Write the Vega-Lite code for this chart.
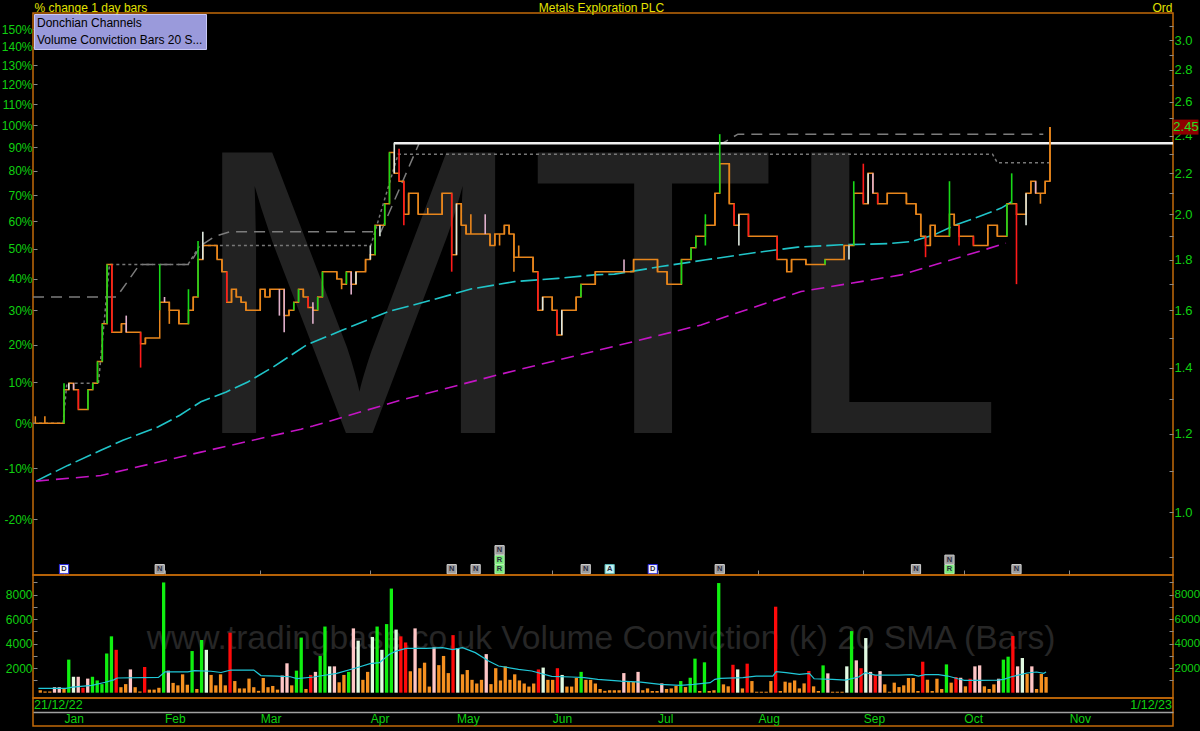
{
"$schema": "https://vega.github.io/schema/vega-lite/v6.json",
"background": "#000000",
"padding": {"left": 0, "top": 0, "right": 0, "bottom": 6},
"bounds": "flush",
"spacing": 0,
"config": {
  "view": {"stroke": "#c26a08", "strokeWidth": 1.5},
  "font": "Liberation Sans",
  "axis": {"grid": false, "labelFont": "Liberation Sans", "titleFont": "Liberation Sans", "labelOverlap": false}
},
"resolve": {"scale": {"color": "independent"}},
"datasets": {
  "wm": [{"t": "MTL"}],
  "wm2": [{"t": "www.tradingbase.co.uk Volume Conviction (k) 20 SMA (Bars)"}],
  "leg": [{"name": "Donchian Channels"}, {"name": "Volume Conviction Bars 20 S..."}],
  "dates": [{"i": -0.48, "t": "21/12/22"}, {"i": 237.7, "t": "1/12/23"}],
  "hi": [{"i": 74.9, "i2": 237.7, "p": 2.36}],
  "events": [
    {"i": 6, "t": "D", "r": 0}, {"i": 26, "t": "N", "r": 0}, {"i": 87, "t": "N", "r": 0}, {"i": 92, "t": "N", "r": 0},
    {"i": 97, "t": "R", "r": 0}, {"i": 97, "t": "R", "r": 1}, {"i": 97, "t": "N", "r": 2}, {"i": 115, "t": "N", "r": 0},
    {"i": 120, "t": "A", "r": 0}, {"i": 129, "t": "D", "r": 0}, {"i": 143, "t": "N", "r": 0}, {"i": 184, "t": "N", "r": 0},
    {"i": 191, "t": "R", "r": 0}, {"i": 191, "t": "N", "r": 1}, {"i": 205, "t": "N", "r": 0}
  ],
  "donA": [{"i":-0.48,"p":1.65},{"i":17,"p":1.65},{"i":21.8,"p":1.78},{"i":32.2,"p":1.78},{"i":34.6,"p":1.86},{"i":37.5,"p":1.9},{"i":40.6,"p":1.92},{"i":72.2,"p":1.92},{"i":80.2,"p":2.36},{"i":143.6,"p":2.36},{"i":146.8,"p":2.41},{"i":210.6,"p":2.41}],
  "donB": [{"i":-0.48,"p":1.23},{"i":5.8,"p":1.23},{"i":6.6,"p":1.35},{"i":13.2,"p":1.35},{"i":15.5,"p":1.78},{"i":31.9,"p":1.78},{"i":34.4,"p":1.86},{"i":70.1,"p":1.86},{"i":75.8,"p":2.3},{"i":200,"p":2.3},{"i":201,"p":2.255},{"i":211.8,"p":2.255}],
  "ma1": [{"i":0.15,"p":1.075},{"i":6.8,"p":1.115},{"i":13.7,"p":1.155},{"i":18.3,"p":1.182},{"i":25.6,"p":1.219},{"i":30.2,"p":1.253},{"i":34.6,"p":1.293},{"i":39.9,"p":1.323},{"i":44.4,"p":1.354},{"i":49.7,"p":1.402},{"i":56.6,"p":1.475},{"i":64.2,"p":1.528},{"i":73.6,"p":1.594},{"i":83.0,"p":1.639},{"i":91.0,"p":1.681},{"i":100.1,"p":1.71},{"i":109.2,"p":1.723},{"i":116.8,"p":1.737},{"i":121.0,"p":1.74},{"i":130.7,"p":1.771},{"i":140.1,"p":1.799},{"i":149.5,"p":1.827},{"i":159.3,"p":1.853},{"i":168.3,"p":1.863},{"i":178.1,"p":1.868},{"i":183.0,"p":1.877},{"i":187.8,"p":1.907},{"i":192.4,"p":1.952},{"i":197.2,"p":1.99},{"i":201.8,"p":2.029},{"i":204.0,"p":2.059}],
  "ma2": [{"i":0.15,"p":1.075},{"i":13.7,"p":1.089},{"i":34.6,"p":1.15},{"i":55.5,"p":1.213},{"i":58.0,"p":1.222},{"i":76.4,"p":1.298},{"i":97.3,"p":1.379},{"i":118.2,"p":1.46},{"i":139.1,"p":1.546},{"i":160.0,"p":1.671},{"i":180.9,"p":1.737},{"i":194.8,"p":1.82},{"i":202.8,"p":1.87}],
  "vsma": [{"i":-0.4,"v":350},{"i":5.4,"v":360},{"i":6.8,"v":450},{"i":10.9,"v":600},{"i":13.7,"v":850},{"i":15.5,"v":1050},{"i":16.2,"v":1200},{"i":24.9,"v":1250},{"i":26.3,"v":1700},{"i":31.1,"v":1700},{"i":32.5,"v":1800},{"i":36,"v":1750},{"i":38.1,"v":1650},{"i":40.2,"v":1850},{"i":45,"v":1850},{"i":46.5,"v":1400},{"i":49.9,"v":1350},{"i":52.7,"v":1300},{"i":54.1,"v":1150},{"i":57.6,"v":1280},{"i":62.5,"v":1580},{"i":66.7,"v":2040},{"i":69.5,"v":2370},{"i":71.5,"v":2450},{"i":73.6,"v":3130},{"i":75.0,"v":3400},{"i":77.1,"v":3620},{"i":81.3,"v":3620},{"i":84.8,"v":3680},{"i":86.9,"v":3520},{"i":89.0,"v":3680},{"i":91.7,"v":3270},{"i":94.5,"v":2590},{"i":96.6,"v":2180},{"i":100.8,"v":1910},{"i":103.6,"v":1770},{"i":107.8,"v":1340},{"i":112,"v":1280},{"i":114.7,"v":1230},{"i":117.5,"v":1090},{"i":122.4,"v":950},{"i":126.6,"v":870},{"i":130.7,"v":680},{"i":134.9,"v":600},{"i":137.7,"v":680},{"i":141.2,"v":820},{"i":142.2,"v":1090},{"i":143.3,"v":1170},{"i":148.1,"v":1230},{"i":150.9,"v":1360},{"i":154.4,"v":1360},{"i":155.1,"v":1720},{"i":157.2,"v":1640},{"i":160,"v":1500},{"i":162.1,"v":1580},{"i":163.1,"v":1140},{"i":167,"v":1090},{"i":169.7,"v":1030},{"i":172.5,"v":1280},{"i":173.9,"v":1640},{"i":176,"v":1440},{"i":180.9,"v":1440},{"i":183.8,"v":1470},{"i":185.1,"v":1360},{"i":186.5,"v":1470},{"i":189.3,"v":1470},{"i":191.3,"v":1360},{"i":193.4,"v":1140},{"i":194.8,"v":1010},{"i":197.5,"v":1010},{"i":201.7,"v":1030},{"i":203.1,"v":1090},{"i":204.5,"v":1280},{"i":205.9,"v":1410},{"i":208,"v":1610},{"i":210,"v":1690},{"i":211.5,"v":1580},{"i":212,"v":1690}],
  "bars": [
{"i":0,"c":1.23,"h":1.25,"l":1.23,"v":200,"k":"n"},
{"i":1,"c":1.23,"h":1.23,"l":1.23,"v":100,"k":"n"},
{"i":2,"c":1.23,"h":1.25,"l":1.23,"v":100,"k":"n"},
{"i":3,"c":1.23,"h":1.23,"l":1.23,"v":450,"k":"p"},
{"i":4,"c":1.23,"h":1.23,"l":1.23,"v":450,"k":"p"},
{"i":5,"c":1.23,"h":1.23,"l":1.23,"v":300,"k":"n"},
{"i":6,"c":1.33,"h":1.35,"l":1.23,"v":2700,"k":"u"},
{"i":7,"c":1.35,"h":1.35,"l":1.33,"v":1300,"k":"w"},
{"i":8,"c":1.33,"h":1.35,"l":1.33,"v":1300,"k":"p"},
{"i":9,"c":1.27,"h":1.33,"l":1.27,"v":400,"k":"d"},
{"i":10,"c":1.27,"h":1.27,"l":1.27,"v":1150,"k":"p"},
{"i":11,"c":1.33,"h":1.33,"l":1.27,"v":1300,"k":"u"},
{"i":12,"c":1.35,"h":1.35,"l":1.33,"v":1000,"k":"u"},
{"i":13,"c":1.42,"h":1.42,"l":1.35,"v":700,"k":"u"},
{"i":14,"c":1.55,"h":1.55,"l":1.42,"v":3200,"k":"u"},
{"i":15,"c":1.78,"h":1.78,"l":1.55,"v":4600,"k":"u"},
{"i":16,"c":1.52,"h":1.78,"l":1.52,"v":3500,"k":"d"},
{"i":17,"c":1.52,"h":1.52,"l":1.52,"v":450,"k":"n"},
{"i":18,"c":1.55,"h":1.55,"l":1.52,"v":700,"k":"n"},
{"i":19,"c":1.52,"h":1.58,"l":1.52,"v":1900,"k":"p"},
{"i":20,"c":1.52,"h":1.52,"l":1.52,"v":450,"k":"n"},
{"i":21,"c":1.52,"h":1.52,"l":1.52,"v":100,"k":"n"},
{"i":22,"c":1.48,"h":1.52,"l":1.40,"v":2100,"k":"d"},
{"i":23,"c":1.50,"h":1.50,"l":1.48,"v":250,"k":"n"},
{"i":24,"c":1.50,"h":1.50,"l":1.50,"v":250,"k":"n"},
{"i":25,"c":1.50,"h":1.50,"l":1.50,"v":400,"k":"n"},
{"i":26,"c":1.63,"h":1.78,"l":1.60,"v":9000,"k":"u"},
{"i":27,"c":1.63,"h":1.65,"l":1.63,"v":1800,"k":"p"},
{"i":28,"c":1.60,"h":1.63,"l":1.55,"v":800,"k":"n"},
{"i":29,"c":1.60,"h":1.60,"l":1.60,"v":600,"k":"n"},
{"i":30,"c":1.55,"h":1.60,"l":1.55,"v":1500,"k":"n"},
{"i":31,"c":1.55,"h":1.55,"l":1.55,"v":650,"k":"n"},
{"i":32,"c":1.60,"h":1.68,"l":1.55,"v":3400,"k":"u"},
{"i":33,"c":1.65,"h":1.65,"l":1.60,"v":300,"k":"n"},
{"i":34,"c":1.80,"h":1.88,"l":1.65,"v":4300,"k":"u"},
{"i":35,"c":1.86,"h":1.92,"l":1.80,"v":3500,"k":"w"},
{"i":36,"c":1.86,"h":1.86,"l":1.86,"v":1450,"k":"n"},
{"i":37,"c":1.86,"h":1.86,"l":1.86,"v":600,"k":"n"},
{"i":38,"c":1.80,"h":1.86,"l":1.80,"v":1500,"k":"n"},
{"i":39,"c":1.75,"h":1.80,"l":1.75,"v":600,"k":"n"},
{"i":40,"c":1.63,"h":1.75,"l":1.63,"v":4900,"k":"d"},
{"i":41,"c":1.68,"h":1.68,"l":1.63,"v":950,"k":"n"},
{"i":42,"c":1.65,"h":1.68,"l":1.65,"v":350,"k":"n"},
{"i":43,"c":1.63,"h":1.65,"l":1.63,"v":350,"k":"n"},
{"i":44,"c":1.60,"h":1.63,"l":1.60,"v":1150,"k":"n"},
{"i":45,"c":1.60,"h":1.60,"l":1.60,"v":450,"k":"n"},
{"i":46,"c":1.60,"h":1.60,"l":1.60,"v":150,"k":"n"},
{"i":47,"c":1.68,"h":1.68,"l":1.60,"v":1200,"k":"n"},
{"i":48,"c":1.65,"h":1.68,"l":1.65,"v":450,"k":"n"},
{"i":49,"c":1.68,"h":1.68,"l":1.65,"v":550,"k":"n"},
{"i":50,"c":1.68,"h":1.68,"l":1.68,"v":250,"k":"n"},
{"i":51,"c":1.68,"h":1.68,"l":1.58,"v":1400,"k":"p"},
{"i":52,"c":1.58,"h":1.68,"l":1.52,"v":2400,"k":"p"},
{"i":53,"c":1.60,"h":1.60,"l":1.58,"v":600,"k":"n"},
{"i":54,"c":1.63,"h":1.63,"l":1.60,"v":1800,"k":"u"},
{"i":55,"c":1.68,"h":1.68,"l":1.63,"v":4500,"k":"u"},
{"i":56,"c":1.65,"h":1.68,"l":1.65,"v":300,"k":"n"},
{"i":57,"c":1.61,"h":1.65,"l":1.61,"v":1450,"k":"d"},
{"i":58,"c":1.60,"h":1.63,"l":1.55,"v":1700,"k":"p"},
{"i":59,"c":1.65,"h":1.65,"l":1.60,"v":3000,"k":"u"},
{"i":60,"c":1.75,"h":1.75,"l":1.65,"v":5400,"k":"u"},
{"i":61,"c":1.75,"h":1.75,"l":1.75,"v":2150,"k":"w"},
{"i":62,"c":1.75,"h":1.75,"l":1.75,"v":2150,"k":"p"},
{"i":63,"c":1.72,"h":1.75,"l":1.72,"v":850,"k":"n"},
{"i":64,"c":1.70,"h":1.72,"l":1.68,"v":1450,"k":"n"},
{"i":65,"c":1.75,"h":1.75,"l":1.70,"v":1700,"k":"u"},
{"i":66,"c":1.70,"h":1.75,"l":1.66,"v":5250,"k":"p"},
{"i":67,"c":1.75,"h":1.75,"l":1.70,"v":4250,"k":"w"},
{"i":68,"c":1.75,"h":1.75,"l":1.75,"v":1050,"k":"n"},
{"i":69,"c":1.80,"h":1.80,"l":1.75,"v":1700,"k":"n"},
{"i":70,"c":1.82,"h":1.86,"l":1.80,"v":4550,"k":"w"},
{"i":71,"c":1.95,"h":1.95,"l":1.82,"v":5400,"k":"u"},
{"i":72,"c":1.95,"h":1.95,"l":1.90,"v":3500,"k":"w"},
{"i":73,"c":2.05,"h":2.05,"l":1.95,"v":5600,"k":"u"},
{"i":74,"c":2.31,"h":2.31,"l":2.05,"v":8500,"k":"u"},
{"i":75,"c":2.20,"h":2.36,"l":2.20,"v":5150,"k":"w"},
{"i":76,"c":2.16,"h":2.33,"l":2.16,"v":4600,"k":"d"},
{"i":77,"c":2.00,"h":2.16,"l":1.95,"v":4100,"k":"d"},
{"i":78,"c":2.10,"h":2.10,"l":2.00,"v":1750,"k":"n"},
{"i":79,"c":2.10,"h":2.10,"l":2.10,"v":5250,"k":"p"},
{"i":80,"c":2.00,"h":2.10,"l":2.00,"v":2000,"k":"n"},
{"i":81,"c":2.00,"h":2.00,"l":2.00,"v":2450,"k":"n"},
{"i":82,"c":2.00,"h":2.03,"l":2.00,"v":500,"k":"n"},
{"i":83,"c":2.00,"h":2.00,"l":2.00,"v":3700,"k":"p"},
{"i":84,"c":2.00,"h":2.00,"l":2.00,"v":2250,"k":"n"},
{"i":85,"c":2.10,"h":2.10,"l":2.00,"v":3000,"k":"n"},
{"i":86,"c":2.10,"h":2.10,"l":2.10,"v":1600,"k":"n"},
{"i":87,"c":1.82,"h":2.10,"l":1.75,"v":4700,"k":"d"},
{"i":88,"c":2.05,"h":2.05,"l":1.82,"v":3650,"k":"w"},
{"i":89,"c":1.95,"h":2.05,"l":1.95,"v":1500,"k":"n"},
{"i":90,"c":1.91,"h":1.95,"l":1.91,"v":1850,"k":"n"},
{"i":91,"c":1.91,"h":2.00,"l":1.91,"v":1050,"k":"n"},
{"i":92,"c":1.91,"h":1.91,"l":1.91,"v":750,"k":"n"},
{"i":93,"c":1.91,"h":1.91,"l":1.91,"v":1050,"k":"n"},
{"i":94,"c":1.91,"h":2.00,"l":1.91,"v":3150,"k":"p"},
{"i":95,"c":1.86,"h":1.91,"l":1.86,"v":700,"k":"n"},
{"i":96,"c":1.91,"h":1.91,"l":1.86,"v":2000,"k":"n"},
{"i":97,"c":1.91,"h":1.91,"l":1.86,"v":1000,"k":"n"},
{"i":98,"c":1.95,"h":1.95,"l":1.91,"v":2150,"k":"n"},
{"i":99,"c":1.91,"h":1.95,"l":1.91,"v":1050,"k":"n"},
{"i":100,"c":1.81,"h":1.91,"l":1.75,"v":1500,"k":"n"},
{"i":101,"c":1.81,"h":1.86,"l":1.81,"v":1000,"k":"n"},
{"i":102,"c":1.81,"h":1.81,"l":1.81,"v":750,"k":"n"},
{"i":103,"c":1.81,"h":1.81,"l":1.81,"v":500,"k":"n"},
{"i":104,"c":1.75,"h":1.81,"l":1.75,"v":750,"k":"n"},
{"i":105,"c":1.60,"h":1.75,"l":1.60,"v":1900,"k":"d"},
{"i":106,"c":1.65,"h":1.65,"l":1.60,"v":2050,"k":"w"},
{"i":107,"c":1.65,"h":1.65,"l":1.65,"v":1050,"k":"n"},
{"i":108,"c":1.60,"h":1.65,"l":1.60,"v":1050,"k":"n"},
{"i":109,"c":1.51,"h":1.60,"l":1.51,"v":2000,"k":"d"},
{"i":110,"c":1.60,"h":1.60,"l":1.51,"v":1450,"k":"w"},
{"i":111,"c":1.60,"h":1.60,"l":1.60,"v":500,"k":"n"},
{"i":112,"c":1.60,"h":1.60,"l":1.60,"v":500,"k":"n"},
{"i":113,"c":1.65,"h":1.65,"l":1.60,"v":1200,"k":"n"},
{"i":114,"c":1.70,"h":1.70,"l":1.65,"v":1700,"k":"u"},
{"i":115,"c":1.70,"h":1.70,"l":1.70,"v":1050,"k":"n"},
{"i":116,"c":1.70,"h":1.70,"l":1.70,"v":1050,"k":"n"},
{"i":117,"c":1.75,"h":1.75,"l":1.70,"v":750,"k":"n"},
{"i":118,"c":1.75,"h":1.75,"l":1.75,"v":300,"k":"n"},
{"i":119,"c":1.75,"h":1.75,"l":1.75,"v":150,"k":"n"},
{"i":120,"c":1.75,"h":1.75,"l":1.75,"v":200,"k":"n"},
{"i":121,"c":1.75,"h":1.75,"l":1.75,"v":200,"k":"n"},
{"i":122,"c":1.75,"h":1.75,"l":1.75,"v":200,"k":"n"},
{"i":123,"c":1.75,"h":1.80,"l":1.75,"v":1600,"k":"p"},
{"i":124,"c":1.75,"h":1.75,"l":1.75,"v":950,"k":"n"},
{"i":125,"c":1.80,"h":1.80,"l":1.75,"v":870,"k":"n"},
{"i":126,"c":1.80,"h":1.80,"l":1.80,"v":1700,"k":"p"},
{"i":127,"c":1.80,"h":1.80,"l":1.80,"v":200,"k":"n"},
{"i":128,"c":1.80,"h":1.80,"l":1.80,"v":350,"k":"n"},
{"i":129,"c":1.80,"h":1.80,"l":1.80,"v":140,"k":"n"},
{"i":130,"c":1.75,"h":1.80,"l":1.75,"v":140,"k":"n"},
{"i":131,"c":1.75,"h":1.75,"l":1.75,"v":760,"k":"p"},
{"i":132,"c":1.70,"h":1.75,"l":1.70,"v":300,"k":"n"},
{"i":133,"c":1.70,"h":1.70,"l":1.70,"v":350,"k":"n"},
{"i":134,"c":1.70,"h":1.70,"l":1.70,"v":550,"k":"n"},
{"i":135,"c":1.80,"h":1.80,"l":1.70,"v":950,"k":"u"},
{"i":136,"c":1.80,"h":1.80,"l":1.80,"v":460,"k":"n"},
{"i":137,"c":1.85,"h":1.85,"l":1.80,"v":1220,"k":"u"},
{"i":138,"c":1.90,"h":1.90,"l":1.85,"v":2780,"k":"u"},
{"i":139,"c":1.90,"h":1.90,"l":1.90,"v":140,"k":"n"},
{"i":140,"c":1.95,"h":2.00,"l":1.86,"v":2480,"k":"u"},
{"i":141,"c":1.95,"h":1.95,"l":1.95,"v":140,"k":"n"},
{"i":142,"c":2.10,"h":2.10,"l":1.95,"v":200,"k":"n"},
{"i":143,"c":2.25,"h":2.41,"l":2.10,"v":8950,"k":"u"},
{"i":144,"c":2.25,"h":2.25,"l":2.25,"v":680,"k":"n"},
{"i":145,"c":2.05,"h":2.25,"l":2.05,"v":520,"k":"n"},
{"i":146,"c":1.95,"h":2.05,"l":1.95,"v":2280,"k":"d"},
{"i":147,"c":2.00,"h":2.00,"l":1.86,"v":1900,"k":"w"},
{"i":148,"c":2.00,"h":2.00,"l":2.00,"v":350,"k":"n"},
{"i":149,"c":1.90,"h":2.00,"l":1.90,"v":2370,"k":"d"},
{"i":150,"c":1.90,"h":1.90,"l":1.90,"v":950,"k":"n"},
{"i":151,"c":1.90,"h":1.90,"l":1.90,"v":80,"k":"n"},
{"i":152,"c":1.90,"h":1.90,"l":1.90,"v":80,"k":"n"},
{"i":153,"c":1.90,"h":1.90,"l":1.90,"v":80,"k":"n"},
{"i":154,"c":1.90,"h":1.90,"l":1.90,"v":950,"k":"n"},
{"i":155,"c":1.80,"h":1.90,"l":1.80,"v":7020,"k":"d"},
{"i":156,"c":1.80,"h":1.80,"l":1.80,"v":140,"k":"n"},
{"i":157,"c":1.75,"h":1.80,"l":1.75,"v":900,"k":"n"},
{"i":158,"c":1.80,"h":1.80,"l":1.75,"v":820,"k":"n"},
{"i":159,"c":1.80,"h":1.80,"l":1.80,"v":1000,"k":"n"},
{"i":160,"c":1.80,"h":1.80,"l":1.80,"v":350,"k":"n"},
{"i":161,"c":1.78,"h":1.80,"l":1.78,"v":760,"k":"n"},
{"i":162,"c":1.78,"h":1.78,"l":1.78,"v":1770,"k":"d"},
{"i":163,"c":1.78,"h":1.78,"l":1.78,"v":520,"k":"n"},
{"i":164,"c":1.78,"h":1.78,"l":1.78,"v":140,"k":"n"},
{"i":165,"c":1.80,"h":1.80,"l":1.78,"v":2230,"k":"u"},
{"i":166,"c":1.80,"h":1.80,"l":1.80,"v":1580,"k":"p"},
{"i":167,"c":1.80,"h":1.80,"l":1.80,"v":80,"k":"n"},
{"i":168,"c":1.80,"h":1.80,"l":1.80,"v":80,"k":"n"},
{"i":169,"c":1.86,"h":1.86,"l":1.80,"v":80,"k":"n"},
{"i":170,"c":1.86,"h":1.86,"l":1.80,"v":2150,"k":"w"},
{"i":171,"c":2.10,"h":2.16,"l":1.86,"v":5030,"k":"u"},
{"i":172,"c":2.10,"h":2.10,"l":2.10,"v":2640,"k":"p"},
{"i":173,"c":2.05,"h":2.25,"l":2.05,"v":2000,"k":"d"},
{"i":174,"c":2.20,"h":2.20,"l":2.05,"v":4460,"k":"w"},
{"i":175,"c":2.10,"h":2.20,"l":2.10,"v":1700,"k":"p"},
{"i":176,"c":2.05,"h":2.10,"l":2.05,"v":1450,"k":"d"},
{"i":177,"c":2.05,"h":2.05,"l":2.05,"v":1770,"k":"p"},
{"i":178,"c":2.10,"h":2.10,"l":2.05,"v":680,"k":"n"},
{"i":179,"c":2.10,"h":2.10,"l":2.10,"v":80,"k":"n"},
{"i":180,"c":2.10,"h":2.10,"l":2.10,"v":820,"k":"n"},
{"i":181,"c":2.10,"h":2.10,"l":2.10,"v":460,"k":"n"},
{"i":182,"c":2.05,"h":2.10,"l":2.05,"v":600,"k":"n"},
{"i":183,"c":2.05,"h":2.05,"l":2.05,"v":1200,"k":"n"},
{"i":184,"c":2.00,"h":2.05,"l":2.00,"v":1200,"k":"n"},
{"i":185,"c":1.90,"h":2.00,"l":1.90,"v":140,"k":"n"},
{"i":186,"c":1.86,"h":1.90,"l":1.81,"v":2530,"k":"d"},
{"i":187,"c":1.95,"h":1.95,"l":1.86,"v":1060,"k":"n"},
{"i":188,"c":1.90,"h":1.95,"l":1.90,"v":140,"k":"n"},
{"i":189,"c":1.90,"h":1.90,"l":1.90,"v":1140,"k":"n"},
{"i":190,"c":1.90,"h":1.90,"l":1.90,"v":300,"k":"n"},
{"i":191,"c":2.00,"h":2.16,"l":1.90,"v":2310,"k":"u"},
{"i":192,"c":1.95,"h":2.00,"l":1.95,"v":820,"k":"n"},
{"i":193,"c":1.90,"h":1.95,"l":1.86,"v":1280,"k":"d"},
{"i":194,"c":1.90,"h":1.90,"l":1.90,"v":1220,"k":"p"},
{"i":195,"c":1.90,"h":1.90,"l":1.90,"v":520,"k":"n"},
{"i":196,"c":1.86,"h":1.90,"l":1.86,"v":1140,"k":"d"},
{"i":197,"c":1.86,"h":1.86,"l":1.86,"v":2150,"k":"p"},
{"i":198,"c":1.86,"h":1.86,"l":1.86,"v":2230,"k":"p"},
{"i":199,"c":1.95,"h":1.95,"l":1.86,"v":520,"k":"n"},
{"i":200,"c":1.95,"h":1.95,"l":1.95,"v":300,"k":"n"},
{"i":201,"c":1.90,"h":1.95,"l":1.90,"v":680,"k":"n"},
{"i":202,"c":1.90,"h":1.90,"l":1.90,"v":1140,"k":"p"},
{"i":203,"c":2.05,"h":2.05,"l":1.90,"v":2700,"k":"u"},
{"i":204,"c":2.05,"h":2.20,"l":2.05,"v":2940,"k":"u"},
{"i":205,"c":2.00,"h":2.05,"l":1.70,"v":4630,"k":"d"},
{"i":206,"c":2.00,"h":2.00,"l":2.00,"v":2150,"k":"p"},
{"i":207,"c":2.10,"h":2.10,"l":1.95,"v":2830,"k":"w"},
{"i":208,"c":2.16,"h":2.16,"l":2.10,"v":1530,"k":"n"},
{"i":209,"c":2.10,"h":2.16,"l":2.10,"v":2150,"k":"p"},
{"i":210,"c":2.10,"h":2.10,"l":2.05,"v":300,"k":"n"},
{"i":211,"c":2.16,"h":2.16,"l":2.10,"v":1530,"k":"n"},
{"i":212,"c":2.45,"h":2.45,"l":2.16,"v":1280,"k":"n"}
  ]
},
"vconcat": [
{
  "width": 1140, "height": 562,
  "resolve": {"axis": {"y": "independent", "x": "independent"}},
  "layer": [
    {"data": {"name": "wm"},
     "mark": {"type": "text", "fontSize": 408, "font": "Liberation Sans", "color": "#222222", "align": "center", "baseline": "alphabetic"},
     "encoding": {"x": {"datum": 117.3, "type": "quantitative", "scale": {"domain": [-0.48, 237.7], "nice": false, "zero": false}, "axis": null},
                  "y": {"datum": 1.202, "type": "quantitative", "scale": {"type": "log", "domain": [0.864, 3.195], "nice": false}, "axis": null},
                  "text": {"field": "t"}}},
    {"data": {"name": "leg"},
     "mark": {"type": "point", "opacity": 0},
     "encoding": {"x": {"datum": 0, "type": "quantitative", "axis": null},
                  "y": {"datum": 1.5, "type": "quantitative", "axis": null},
                  "shape": {"field": "name", "type": "nominal", "sort": null,
                            "legend": {"title": null, "orient": "top-left", "offset": 1, "padding": 3, "fillColor": "#9a9adb", "strokeColor": "#c8c8f6", "labelColor": "#000000", "labelFont": "Liberation Sans", "labelFontSize": 12, "labelLimit": 300, "labelOffset": -12, "symbolSize": 0, "symbolOpacity": 0, "symbolStrokeWidth": 0, "rowPadding": 5, "cornerRadius": 0}}}},
    {"data": {"name": "donA"},
     "mark": {"type": "line", "color": "#7c7c7c", "strokeWidth": 1.5, "strokeDash": [11, 7]},
     "encoding": {"x": {"field": "i", "type": "quantitative", "axis": null}, "y": {"field": "p", "type": "quantitative", "axis": null}}},
    {"data": {"name": "donB"},
     "mark": {"type": "line", "color": "#777777", "strokeWidth": 1.5, "strokeDash": [3, 3]},
     "encoding": {"x": {"field": "i", "type": "quantitative", "axis": null}, "y": {"field": "p", "type": "quantitative", "axis": null}}},
    {"data": {"name": "ma1"},
     "mark": {"type": "line", "color": "#20c4c8", "strokeWidth": 1.6, "strokeDash": [17, 5]},
     "encoding": {"x": {"field": "i", "type": "quantitative", "axis": null}, "y": {"field": "p", "type": "quantitative", "axis": null}}},
    {"data": {"name": "ma2"},
     "mark": {"type": "line", "color": "#c414c4", "strokeWidth": 1.6, "strokeDash": [13, 7]},
     "encoding": {"x": {"field": "i", "type": "quantitative", "axis": null}, "y": {"field": "p", "type": "quantitative", "axis": null}}},
    {"data": {"name": "hi"},
     "mark": {"type": "rule", "color": "#f0f0f0", "strokeWidth": 2.5},
     "encoding": {"x": {"field": "i", "type": "quantitative", "axis": null}, "x2": {"field": "i2"}, "y": {"field": "p", "type": "quantitative", "axis": null}}},
    {"data": {"name": "bars"},
     "mark": {"type": "line", "interpolate": "step-after", "color": "#e8861c", "strokeWidth": 1.5},
     "encoding": {
       "x": {"field": "i", "type": "quantitative",
             "axis": {"orient": "top", "labels": false, "ticks": false, "domain": false, "title": "Metals Exploration PLC", "titleColor": "#e2e200", "titleFontSize": 12, "titleFontWeight": "normal", "titleX": 568, "titleY": -2, "titleAlign": "center", "titleBaseline": "alphabetic"}},
       "y": {"field": "c", "type": "quantitative",
             "axis": {"orient": "left", "values": [0.984,1.107,1.23,1.353,1.476,1.599,1.722,1.845,1.968,2.091,2.214,2.337,2.46,2.583,2.706,2.829,2.952,3.075],
                      "labelExpr": "round((datum.value/1.23-1)*100) + '%'", "labelColor": "#10d010", "labelFontSize": 12, "labelPadding": 5, "tickSize": -4, "tickColor": "#8a8a8a", "domain": false,
                      "title": "% change 1 day bars", "titleColor": "#e2e200", "titleFontSize": 12, "titleFontWeight": "normal", "titleAngle": 0, "titleAlign": "left", "titleBaseline": "alphabetic", "titleX": 1, "titleY": -2}}}},
    {"data": {"name": "bars"},
     "mark": {"type": "rule", "strokeWidth": 1.6},
     "encoding": {
       "x": {"field": "i", "type": "quantitative",
             "axis": {"orient": "bottom", "values": [6,27,47,70,88,108,130,151,173,194,216], "labels": false, "domain": false, "ticks": true, "tickSize": -5, "tickColor": "#8a8a8a", "title": null}},
       "y": {"field": "l", "type": "quantitative",
             "axis": {"orient": "right", "values": [0.9,1.0,1.1,1.2,1.3,1.4,1.5,1.6,1.7,1.8,1.9,2.0,2.1,2.2,2.3,2.4,2.5,2.6,2.7,2.8,2.9,3.0,3.1],
                      "labelExpr": "round(datum.value*10) % 2 == 0 ? format(datum.value, '.1f') : ''", "labelColor": "#10d010", "labelFontSize": 13, "labelPadding": 5, "tickSize": -4, "tickColor": "#8a8a8a", "domain": false,
                      "title": "Ord", "titleColor": "#e2e200", "titleFontSize": 12, "titleFontWeight": "normal", "titleAngle": 0, "titleAlign": "right", "titleBaseline": "alphabetic", "titleX": -1, "titleY": -2}},
       "y2": {"field": "h"},
       "color": {"field": "k", "type": "nominal", "scale": {"domain": ["u","d","n","w","p"], "range": ["#18d818","#ff1a1a","#e8861c","#dfe8df","#e0b0cc"]}, "legend": null}}},
    {"data": {"name": "events"}, "transform": [{"filter": "datum.r == 0"}],
     "mark": {"type": "square", "size": 85, "filled": true, "strokeWidth": 1, "opacity": 1},
     "encoding": {"x": {"field": "i", "type": "quantitative", "axis": null}, "y": {"datum": 0.8758, "type": "quantitative", "axis": null},
                  "fill": {"field": "t", "type": "nominal", "scale": {"domain": ["N","R","D","A"], "range": ["#9c9c9c","#78e878","#f4f4ff","#c4f4f4"]}, "legend": null},
                  "stroke": {"field": "t", "type": "nominal", "scale": {"domain": ["N","R","D","A"], "range": ["#d0d0d0","#b8f8b8","#2424e0","#5ab8b8"]}, "legend": null}}},
    {"data": {"name": "events"}, "transform": [{"filter": "datum.r == 1"}],
     "mark": {"type": "square", "size": 85, "filled": true, "strokeWidth": 1, "opacity": 1},
     "encoding": {"x": {"field": "i", "type": "quantitative", "axis": null}, "y": {"datum": 0.8953, "type": "quantitative", "axis": null},
                  "fill": {"field": "t", "type": "nominal", "legend": null},
                  "stroke": {"field": "t", "type": "nominal", "legend": null}}},
    {"data": {"name": "events"}, "transform": [{"filter": "datum.r == 2"}],
     "mark": {"type": "square", "size": 85, "filled": true, "strokeWidth": 1, "opacity": 1},
     "encoding": {"x": {"field": "i", "type": "quantitative", "axis": null}, "y": {"datum": 0.9153, "type": "quantitative", "axis": null},
                  "fill": {"field": "t", "type": "nominal", "legend": null},
                  "stroke": {"field": "t", "type": "nominal", "legend": null}}},
    {"data": {"name": "events"}, "transform": [{"filter": "datum.r == 0"}],
     "mark": {"type": "text", "fontSize": 7.5, "fontWeight": "bold", "color": "#2a2a40", "align": "center", "baseline": "middle"},
     "encoding": {"x": {"field": "i", "type": "quantitative", "axis": null}, "y": {"datum": 0.8758, "type": "quantitative", "axis": null}, "text": {"field": "t"}}},
    {"data": {"name": "events"}, "transform": [{"filter": "datum.r == 1"}],
     "mark": {"type": "text", "fontSize": 7.5, "fontWeight": "bold", "color": "#2a2a40", "align": "center", "baseline": "middle"},
     "encoding": {"x": {"field": "i", "type": "quantitative", "axis": null}, "y": {"datum": 0.8953, "type": "quantitative", "axis": null}, "text": {"field": "t"}}},
    {"data": {"name": "events"}, "transform": [{"filter": "datum.r == 2"}],
     "mark": {"type": "text", "fontSize": 7.5, "fontWeight": "bold", "color": "#2a2a40", "align": "center", "baseline": "middle"},
     "encoding": {"x": {"field": "i", "type": "quantitative", "axis": null}, "y": {"datum": 0.9153, "type": "quantitative", "axis": null}, "text": {"field": "t"}}},
    {"data": {"name": "bars"}, "transform": [{"filter": "datum.i == 212"}],
     "mark": {"type": "point", "shape": "M-1,-0.6H1V0.6H-1Z", "size": 625, "filled": true, "color": "#8e0000", "opacity": 1, "xOffset": 13},
     "encoding": {"x": {"datum": 237.7, "type": "quantitative", "axis": null}, "y": {"field": "c", "type": "quantitative", "axis": null}}},
    {"data": {"name": "bars"}, "transform": [{"filter": "datum.i == 212"}],
     "mark": {"type": "text", "xOffset": 13, "color": "#22e022", "fontSize": 13, "align": "center", "baseline": "middle"},
     "encoding": {"x": {"datum": 237.7, "type": "quantitative", "axis": null}, "y": {"field": "c", "type": "quantitative", "axis": null}, "text": {"field": "c", "format": ".2f"}}}
  ]
},
{
  "width": 1140, "height": 123,
  "resolve": {"axis": {"y": "independent"}},
  "layer": [
    {"data": {"name": "wm2"},
     "mark": {"type": "text", "fontSize": 33.6, "font": "Liberation Sans", "color": "#262626", "align": "center", "baseline": "alphabetic"},
     "encoding": {"x": {"datum": 118.2, "type": "quantitative", "scale": {"domain": [-0.48, 237.7], "nice": false, "zero": false}, "axis": null},
                  "y": {"datum": 3567, "type": "quantitative", "scale": {"domain": [-433, 9608], "nice": false, "zero": false}, "axis": null},
                  "text": {"field": "t"}}},
    {"data": {"name": "bars"},
     "mark": {"type": "bar", "width": 3.3},
     "encoding": {
       "x": {"field": "i", "type": "quantitative",
             "axis": {"orient": "bottom", "values": [6,27,47,70,88,108,130,151,173,194,216], "labels": false, "domain": false, "ticks": true, "tickSize": -5, "tickColor": "#8a8a8a", "title": null}},
       "y": {"field": "v", "type": "quantitative",
             "axis": {"orient": "left", "values": [1000,2000,3000,4000,5000,6000,7000,8000,9000], "labelExpr": "datum.value % 2000 == 0 ? '' + datum.value : ''", "labelColor": "#10d010", "labelFontSize": 12, "labelPadding": 5, "tickSize": -4, "tickColor": "#8a8a8a", "domain": false, "title": null}},
       "color": {"field": "k", "type": "nominal", "scale": {"domain": ["u","d","n","w","p"], "range": ["#10f010","#ff0a0a","#f59020","#e2fbe2","#ffc6c6"]}, "legend": null}}},
    {"data": {"name": "vsma"},
     "mark": {"type": "line", "color": "#20c8d8", "strokeWidth": 1.2},
     "encoding": {
       "x": {"field": "i", "type": "quantitative", "axis": null},
       "y": {"field": "v", "type": "quantitative",
             "axis": {"orient": "right", "values": [1000,2000,3000,4000,5000,6000,7000,8000,9000], "labelExpr": "datum.value % 2000 == 0 ? '' + datum.value : ''", "labelColor": "#10d010", "labelFontSize": 11.5, "labelPadding": 5, "tickSize": -4, "tickColor": "#8a8a8a", "domain": false, "title": null}}}}
  ]
},
{
  "width": 1140, "height": 28,
  "data": {"name": "dates"},
  "encoding": {
    "x": {"field": "i", "type": "quantitative", "scale": {"domain": [-0.48, 237.7], "nice": false, "zero": false},
          "axis": {"orient": "bottom", "values": [6,27,47,70,88,108,130,151,173,194,216],
                   "labelExpr": "['Jan','Feb','Mar','Apr','May','Jun','Jul','Aug','Sep','Oct','Nov'][indexof([6,27,47,70,88,108,130,151,173,194,216], datum.value)]",
                   "labelAlign": "left", "labelBaseline": "top", "labelPadding": -13, "labelFontSize": 12, "labelColor": "#10d010", "labelFlush": false,
                   "ticks": false, "domain": false, "title": null}},
    "y": {"datum": 1.5, "type": "quantitative", "scale": {"domain": [0, 2], "nice": false, "zero": false},
          "axis": {"values": [1], "grid": true, "gridColor": "#a0a0a0", "gridWidth": 1.5, "labels": false, "ticks": false, "domain": false, "title": null}},
    "text": {"field": "t"}
  },
  "layer": [
    {"transform": [{"filter": "datum.t == '21/12/22'"}],
     "mark": {"type": "text", "align": "left", "baseline": "middle", "dx": 1, "color": "#10d010", "fontSize": 12.5}},
    {"transform": [{"filter": "datum.t == '1/12/23'"}],
     "mark": {"type": "text", "align": "right", "baseline": "middle", "dx": -1, "color": "#10d010", "fontSize": 12.5}}
  ]
}
]
}
